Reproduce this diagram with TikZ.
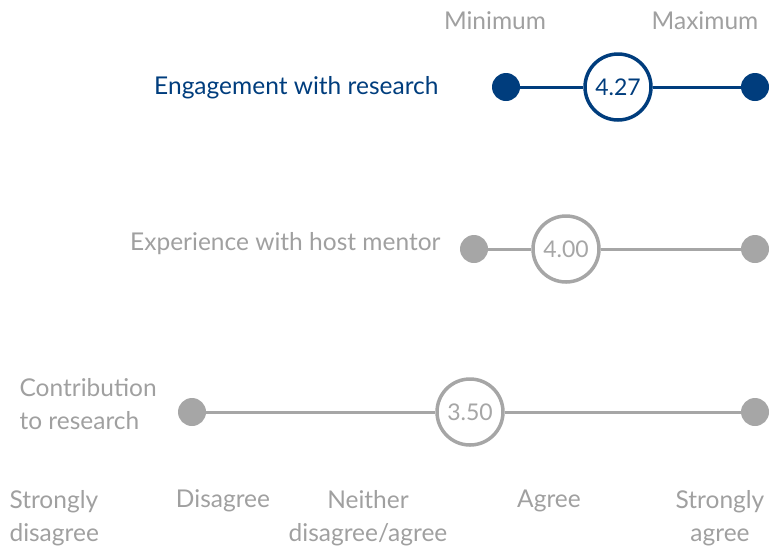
\documentclass[tikz,border=0pt]{standalone}
\usepackage{fontspec}
\setmainfont{Lato}
\usepackage{tikz}

\definecolor{navy}{RGB}{0,61,125}
\definecolor{greyline}{RGB}{166,166,166}
\definecolor{greytext}{RGB}{160,160,160}

\tikzset{
  dot/.style={circle, fill=#1, minimum size=28pt, inner sep=0pt},
  score/.style={circle, draw=#1, line width=3.5pt, fill=white, minimum size=66pt, inner sep=0pt, text=#1},
  bar/.style={line width=3pt, draw=#1},
  txt/.style={text=greytext, font=\fontsize{24.5}{33}\selectfont}
}

\begin{document}
\begin{tikzpicture}[x=1pt,y=-1pt]
  \useasboundingbox (0,0) rectangle (783,550);
  \node [txt] (min) at (495,21) {Minimum};
  \node [txt] (max) at (705,21) {Maximum};
  % engagement
  \node [txt, text=navy, left] (lab1) at (442,88) {Engagement with research};
  \node [dot=navy] (lo1) at (506,87) {};
  \node [dot=navy] (hi1) at (755,87) {};
  \node [score=navy, font=\fontsize{23}{26}\selectfont] (val1) at (618,87) {4.27};
  \draw [bar=navy] (lo1) -- (val1);
  \draw [bar=navy] (val1) -- (hi1);
  % host mentor
  \node [txt, left] (lab2) at (444,244) {Experience with host mentor};
  \node [dot=greyline] (lo2) at (474,249) {};
  \node [dot=greyline] (hi2) at (755,249) {};
  \node [score=greyline, font=\fontsize{23}{26}\selectfont] (val2) at (566,249) {4.00};
  \draw [bar=greyline] (lo2) -- (val2);
  \draw [bar=greyline] (val2) -- (hi2);
  % contribution
  \node [txt, align=left, right] (lab3) at (16,404) {Contribution\\to research};
  \node [dot=greyline] (lo3) at (192,412) {};
  \node [dot=greyline] (hi3) at (755,412) {};
  \node [score=greyline, font=\fontsize{23}{26}\selectfont] (val3) at (470,412) {3.50};
  \draw [bar=greyline] (lo3) -- (val3);
  \draw [bar=greyline] (val3) -- (hi3);
  % scale
  \node [txt, align=left, right] (s1) at (6,518) {Strongly\\disagree};
  \node [txt] (s2) at (223,501) {Disagree};
  \node [txt, align=center] (s3) at (368,518) {Neither\\disagree/agree};
  \node [txt] (s4) at (549,501) {Agree};
  \node [txt, align=center] (s5) at (720,518) {Strongly\\agree};
\end{tikzpicture}
\end{document}
